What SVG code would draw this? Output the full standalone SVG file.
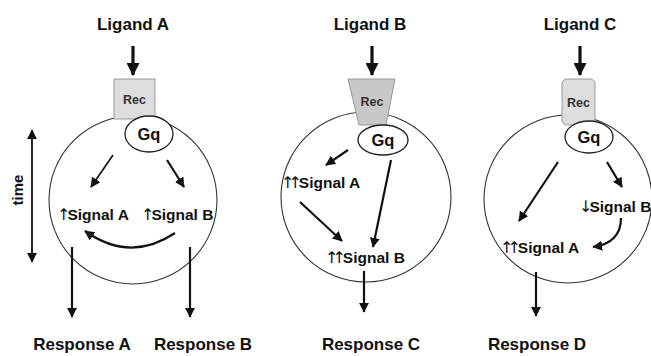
<svg xmlns="http://www.w3.org/2000/svg" width="651" height="356" viewBox="0 0 651 356">
  <defs>
    <style>
      text { font-family: "Liberation Sans", Arial, sans-serif; font-weight: bold; fill: #111; }
      .title { font-size: 17px; text-anchor: middle; }
      .sig { font-size: 15.5px; }
      .rec { font-size: 12.5px; text-anchor: middle; fill: #333; }
      .gq { font-size: 16.5px; text-anchor: middle; }
      .ar { font-weight: normal; font-family: "DejaVu Sans", sans-serif; font-size: 16px; letter-spacing: -6px; fill: #111; }
      .cell { fill: none; stroke: #333; stroke-width: 1.1; }
      .gqshape { fill: #fff; stroke: #222; stroke-width: 1.3; }
      .line { fill: none; stroke: #111; }
      .big { stroke-width: 3.2; marker-end: url(#headBig); }
      .mid { stroke-width: 2.2; marker-end: url(#head); }
      .thin { stroke-width: 1.6; marker-end: url(#head); }
    </style>
    <marker id="headBig" viewBox="0 0 12 12" refX="11" refY="6" markerWidth="13" markerHeight="13" markerUnits="userSpaceOnUse" orient="auto">
      <path d="M0,0 L12,6 L0,12 Z" fill="#111"/>
    </marker>
    <marker id="head" viewBox="0 0 12 12" refX="11" refY="6" markerWidth="10" markerHeight="10" markerUnits="userSpaceOnUse" orient="auto">
      <path d="M0,0 L12,6 L0,12 Z" fill="#111"/>
    </marker>
    <marker id="headStart" viewBox="0 0 12 12" refX="1" refY="6" markerWidth="10" markerHeight="10" markerUnits="userSpaceOnUse" orient="auto">
      <path d="M12,0 L0,6 L12,12 Z" fill="#111"/>
    </marker>
  </defs>

  <rect width="651" height="356" fill="#fff"/>

  <!-- time axis -->
  <g id="time-axis">
    <line class="line" x1="32" y1="130" x2="32" y2="262" stroke-width="1.8" marker-start="url(#headStart)" marker-end="url(#head)"/>
    <text transform="translate(23,190) rotate(-90)" style="font-size:15px;text-anchor:middle">time</text>
  </g>

  <!-- cells -->
  <g id="cell-a"><circle class="cell" cx="133" cy="200" r="84"/></g>
  <g id="cell-b"><circle class="cell" cx="366" cy="197" r="85"/></g>
  <g id="cell-c"><circle class="cell" cx="568" cy="199" r="84"/></g>

  <!-- ligands -->
  <g id="ligand-a"><text class="title" x="133" y="30">Ligand A</text></g>
  <g id="ligand-b"><text class="title" x="370" y="30">Ligand B</text></g>
  <g id="ligand-c"><text class="title" x="580" y="30">Ligand C</text></g>

  <!-- receptors -->
  <g id="rec-a">
    <rect x="114" y="79" width="41" height="40" fill="#ddd" stroke="#999" stroke-width="1"/>
    <text class="rec" x="134.5" y="104">Rec</text>
  </g>
  <g id="rec-b">
    <polygon points="348,79 395,79 386,125 359,125" fill="#c8c8c8" stroke="#999" stroke-width="1"/>
    <text class="rec" x="372" y="106">Rec</text>
  </g>
  <g id="rec-c">
    <rect x="562" y="79" width="33" height="46" rx="5" fill="#ddd" stroke="#999" stroke-width="1"/>
    <text class="rec" x="578.5" y="107">Rec</text>
  </g>

  <!-- G proteins -->
  <g id="gq-a">
    <ellipse class="gqshape" cx="149" cy="134" rx="24" ry="18"/>
    <text class="gq" x="149" y="140">Gq</text>
  </g>
  <g id="gq-b">
    <ellipse class="gqshape" cx="383" cy="140" rx="25" ry="15"/>
    <text class="gq" x="383" y="146">Gq</text>
  </g>
  <g id="gq-c">
    <ellipse class="gqshape" cx="589" cy="137" rx="24" ry="16"/>
    <text class="gq" x="589" y="143">Gq</text>
  </g>

  <!-- signals -->
  <g id="signal-a1"><text class="sig" x="57" y="220"><tspan class="ar">↑</tspan><tspan dx="3">Signal A</tspan></text></g>
  <g id="signal-b1"><text class="sig" x="141" y="220"><tspan class="ar">↑</tspan><tspan dx="3">Signal B</tspan></text></g>
  <g id="signal-a2"><text class="sig" x="281" y="188"><tspan class="ar">↑↑</tspan><tspan dx="3">Signal A</tspan></text></g>
  <g id="signal-b2"><text class="sig" x="325" y="263"><tspan class="ar">↑↑</tspan><tspan dx="3">Signal B</tspan></text></g>
  <g id="signal-b3"><text class="sig" x="579" y="212"><tspan class="ar">↓</tspan><tspan dx="3">Signal B</tspan></text></g>
  <g id="signal-a3"><text class="sig" x="500" y="253"><tspan class="ar">↑↑</tspan><tspan dx="3">Signal A</tspan></text></g>

  <!-- responses -->
  <g id="response-a"><text class="title" x="82" y="350">Response A</text></g>
  <g id="response-b"><text class="title" x="203" y="350">Response B</text></g>
  <g id="response-c"><text class="title" x="371" y="350">Response C</text></g>
  <g id="response-d"><text class="title" x="537" y="350">Response D</text></g>

  <!-- connectors -->
  <g id="connectors">
    <line class="line big" x1="133" y1="46" x2="133" y2="75"/>
    <line class="line big" x1="372" y1="46" x2="372" y2="75"/>
    <line class="line big" x1="580" y1="46" x2="580" y2="75"/>

    <line class="line thin" x1="113" y1="155" x2="91" y2="187"/>
    <line class="line mid" x1="167" y1="160" x2="184" y2="187"/>
    <path class="line mid" d="M175,233 Q130,263 85,231"/>
    <line class="line mid" x1="72" y1="247" x2="72" y2="317"/>
    <line class="line mid" x1="190" y1="247" x2="190" y2="317"/>

    <line class="line mid" x1="348" y1="150" x2="326" y2="165"/>
    <line class="line mid" x1="391" y1="160" x2="373" y2="247"/>
    <line class="line mid" x1="300" y1="202" x2="342" y2="241"/>
    <line class="line mid" x1="364" y1="271" x2="364" y2="312"/>

    <line class="line mid" x1="558" y1="162" x2="519" y2="221"/>
    <line class="line mid" x1="607" y1="162" x2="622" y2="187"/>
    <path class="line mid" d="M621,218 Q621,243 593,247"/>
    <line class="line mid" x1="536" y1="272" x2="536" y2="316"/>
  </g>
</svg>
